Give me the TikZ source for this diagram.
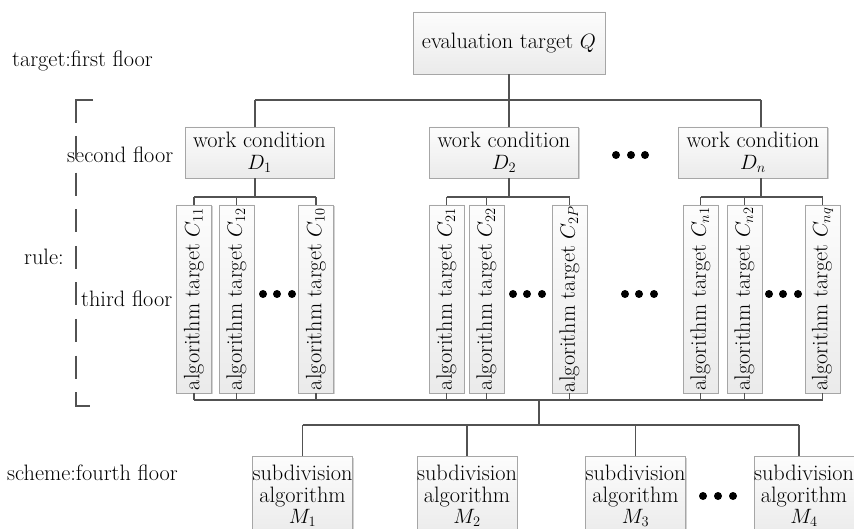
\documentclass[tikz,border=0pt]{standalone}
\usetikzlibrary{shadows}
\newcommand\myfs{\fontsize{22.3}{21.5}\selectfont}
\tikzset{
  box/.style={draw=gray!70, line width=0.8pt, top color=gray!2, bottom color=gray!16,
    inner sep=0pt, align=center, font=\myfs,
    drop shadow={shadow xshift=1.2pt, shadow yshift=-1.2pt, opacity=.35, fill=gray}},
  qbox/.style={box, minimum width=192pt, minimum height=62pt},
  dbox/.style={box, minimum width=149pt, minimum height=51pt},
  cbox/.style={box, rotate=90, minimum width=188pt, minimum height=35pt},
  mbox/.style={box, anchor=north, minimum width=92pt, inner ysep=9pt},
  conn/.style={draw=black!68, line width=1.3pt},
  lbl/.style={anchor=base west, inner sep=0pt, font=\myfs},
  dot/.style={fill=black}
}
\begin{document}
\begin{tikzpicture}[x=1pt,y=-1pt]
\useasboundingbox (0,0) rectangle (854,529);
\clip (0,0) rectangle (854,529);
\fill[white] (0,0) rectangle (854,529);

% labels
\node[lbl] (l1) at (12,67) {target:first floor};
\node[lbl] (l2) at (67,163) {second floor};
\node[lbl] (l3) at (24,265) {rule:};
\node[lbl] (l4) at (81,307) {third floor};
\node[lbl] (l5) at (7,480) {scheme:fourth floor};

% bracket
\coordinate (br1) at (93,100);
\coordinate (br2) at (76,100);
\coordinate (br3) at (76,406);
\coordinate (br4) at (90,406);
\draw[conn] (br1) -- (br2) -- ++(0,23);
\draw[conn, dash pattern=on 23pt off 13.6pt] (br2) ++(0,36) -- (br3);
\draw[conn] (br3) ++(0,-12) -- (br3) -- (br4);

% first floor
\node[qbox] (Q) at (509,43) {evaluation target $Q$};

% second floor
\node[dbox] (D1) at (259.5,152.5) {work condition\\$D_1$};
\node[dbox] (D2) at (504,152.5) {work condition\\$D_2$};
\node[dbox] (Dn) at (753,152.5) {work condition\\$D_n$};

% third floor
\node[cbox] (C11) at (194,299) {algorithm target $C_{11}$};
\node[cbox] (C12) at (236.5,299) {algorithm target $C_{12}$};
\node[cbox] (C10) at (316,299) {algorithm target $C_{10}$};
\node[cbox] (C21) at (446.5,299) {algorithm target $C_{21}$};
\node[cbox] (C22) at (486.5,299) {algorithm target $C_{22}$};
\node[cbox] (C2P) at (569.5,299) {algorithm target $C_{2P}$};
\node[cbox] (Cn1) at (700.5,299) {algorithm target $C_{n1}$};
\node[cbox] (Cn2) at (744.5,299) {algorithm target $C_{n2}$};
\node[cbox] (Cnq) at (822.5,299) {algorithm target $C_{nq}$};

% fourth floor
\node[mbox] (M1) at (302.5,456) {subdivision\\algorithm\\$M_1$};
\node[mbox] (M2) at (467,456) {subdivision\\algorithm\\$M_2$};
\node[mbox] (M3) at (635.5,456) {subdivision\\algorithm\\$M_3$};
\node[mbox] (M4) at (804,456) {subdivision\\algorithm\\$M_4$};

% top connectors
\coordinate (jQ) at (509,100);
\coordinate (bD1) at (255,100);
\coordinate (bDn) at (761,100);
\draw[conn] (Q.south) -- (jQ);
\draw[conn] (bD1) -- (bDn);
\draw[conn] (bD1) -- (bD1 |- D1.north);
\draw[conn] (jQ) -- (jQ |- D2.north);
\draw[conn] (bDn) -- (bDn |- Dn.north);

% D to C connectors
\coordinate (t1) at (255,197);
\coordinate (t2) at (509,197);
\coordinate (t3) at (761,197);
\draw[conn] (bD1 |- D1.south) -- (t1);
\draw[conn] (jQ |- D2.south) -- (t2);
\draw[conn] (bDn |- Dn.south) -- (t3);
\draw[conn] (C11.east |- t1) -- (C10.east |- t1);
\draw[conn] (C21.east |- t2) -- (C2P.east |- t2);
\draw[conn] (Cn1.east |- t3) -- (Cnq.east |- t3);
\foreach \c/\t in {C11/t1,C12/t1,C10/t1,C21/t2,C22/t2,C2P/t2,Cn1/t3,Cn2/t3,Cnq/t3}
  \draw[conn] (\c.east) -- (\c.east |- \t);

% C to M connectors
\coordinate (bb) at (539,400);
\coordinate (bm) at (539,425);
\coordinate (bM4) at (799,425);
\draw[conn] (C11.west |- bb) -- (Cnq.west |- bb);
\foreach \c in {C11,C12,C10,C21,C22,C2P,Cn1,Cn2,Cnq}
  \draw[conn] (\c.west) -- (\c.west |- bb);
\draw[conn] (bb) -- (bm);
\draw[conn] (M1.north |- bm) -- (bM4);
\foreach \m in {M1,M2,M3}
  \draw[conn] (\m.north) -- (\m.north |- bm);
\draw[conn] (bM4) -- (bM4 |- M4.north);

% dots
\foreach \x/\y in {616/155,631/155,645/155,
                   263/294,277/294,292/294,
                   513/294,527/294,542/294,
                   625/294,639/294,654/294,
                   769/294,783/294,798/294,
                   703/496,718/496,733/496}
  \fill[dot] (\x,\y) circle (4pt);
\end{tikzpicture}
\end{document}
